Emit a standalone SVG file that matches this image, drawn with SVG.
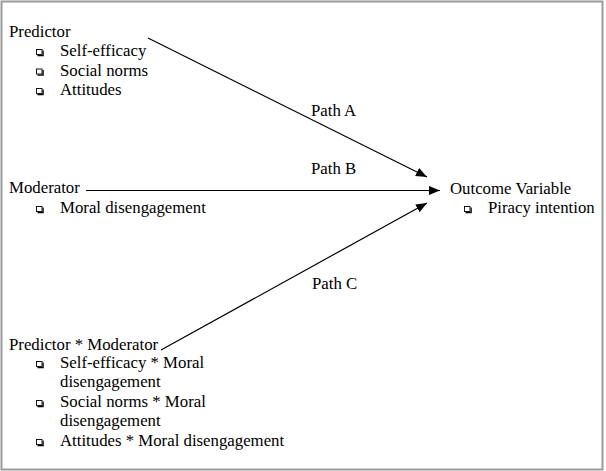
<svg xmlns="http://www.w3.org/2000/svg" width="606" height="471" viewBox="0 0 606 471">
  <style>
    text { font-family: "Liberation Serif", "Times New Roman", serif; font-size: 16.8px; fill: #000; }
    .frame { fill: #fff; stroke: #9a9a9a; stroke-width: 2; }
    .conn { stroke: #000; stroke-width: 1.2; fill: none; marker-end: url(#arrow); }
    .box { fill: #fff; stroke: #000; stroke-width: 0.9; }
    .shadow { fill: none; stroke: #000; stroke-width: 1.3; }
  </style>
  <defs>
    <marker id="arrow" markerUnits="userSpaceOnUse" markerWidth="12" markerHeight="10" refX="11" refY="4.5" orient="auto">
      <path d="M0,0 L11,4.5 L0,9 Z" fill="#000"/>
    </marker>
    <g id="bullet">
      <rect class="box" x="0" y="0" width="5.5" height="5"/>
      <path class="shadow" d="M6.6,1 V6.2 H1"/>
    </g>
  </defs>

  <rect class="frame" x="1.5" y="1.5" width="601" height="468"/>

  <g id="connectors">
    <line class="conn" x1="148" y1="38" x2="427" y2="177"/>
    <line class="conn" x1="86" y1="190.5" x2="440" y2="190.5"/>
    <line class="conn" x1="161" y1="350" x2="427" y2="203"/>
  </g>

  <g id="predictor">
    <text x="9" y="37">Predictor</text>
    <use href="#bullet" x="36.5" y="49.5"/>
    <text x="60" y="56">Self-efficacy</text>
    <use href="#bullet" x="36.5" y="69"/>
    <text x="60" y="76">Social norms</text>
    <use href="#bullet" x="36.5" y="88.5"/>
    <text x="60" y="95">Attitudes</text>
  </g>

  <g id="moderator">
    <text x="9" y="193">Moderator</text>
    <use href="#bullet" x="36.5" y="206.5"/>
    <text x="60" y="213">Moral disengagement</text>
  </g>

  <g id="outcome">
    <text x="450" y="194">Outcome Variable</text>
    <use href="#bullet" x="464.5" y="206.5"/>
    <text x="488" y="213">Piracy intention</text>
  </g>

  <g id="interaction">
    <text x="9" y="350">Predictor * Moderator</text>
    <use href="#bullet" x="36.5" y="361.5"/>
    <text x="60" y="368">Self-efficacy * Moral</text>
    <text x="60" y="387">disengagement</text>
    <use href="#bullet" x="36.5" y="400.5"/>
    <text x="60" y="407">Social norms * Moral</text>
    <text x="60" y="426">disengagement</text>
    <use href="#bullet" x="36.5" y="439.5"/>
    <text x="60" y="446">Attitudes * Moral disengagement</text>
  </g>

  <g id="labels">
    <text x="311" y="116">Path A</text>
    <text x="311" y="174">Path B</text>
    <text x="312" y="289">Path C</text>
  </g>
</svg>
